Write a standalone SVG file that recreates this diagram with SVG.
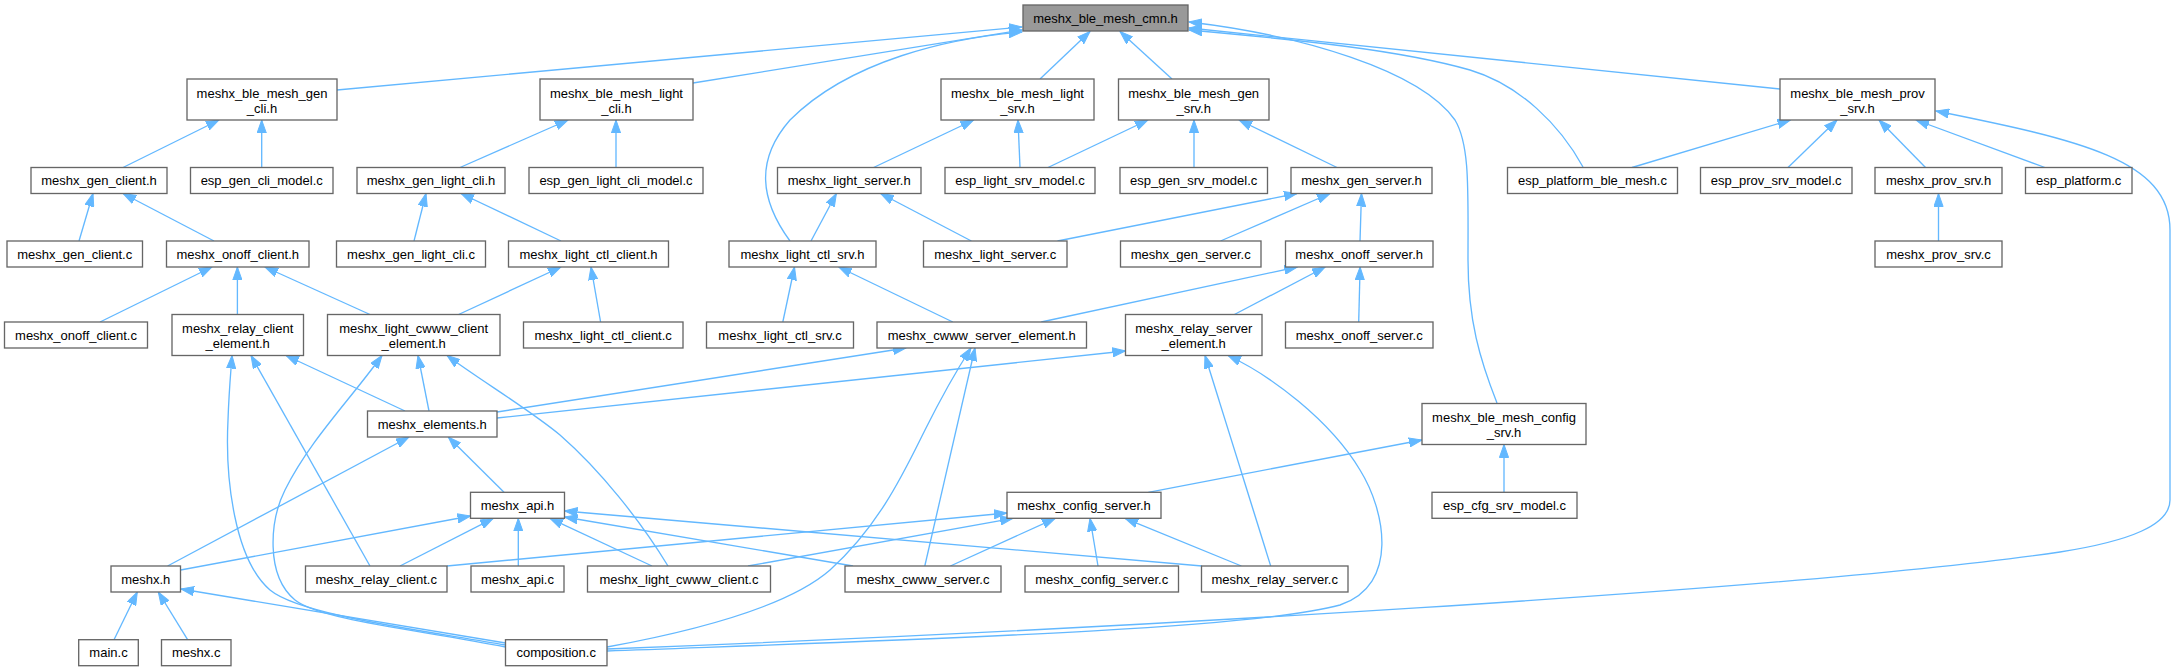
<svg xmlns="http://www.w3.org/2000/svg" width="2176" height="671" viewBox="0 0 2176 671">
<style>
.n rect{fill:#fff;stroke:#666;stroke-width:1.33}
.n.root rect{fill:#999}
.n text{font-family:"Liberation Sans",Arial,sans-serif;font-size:13px;fill:#000;text-anchor:middle}
.e path{fill:none;stroke:#63b8ff;stroke-width:1.33;marker-end:url(#a)}
</style>
<defs>
<marker id="a" markerUnits="userSpaceOnUse" markerWidth="14" markerHeight="10" refX="13" refY="5" orient="auto"><path d="M0,0.4 L13,5 L0,9.6 Z" fill="#63b8ff" stroke="#63b8ff" stroke-width="1"/></marker>
</defs>
<rect width="2176" height="671" fill="#fff"/>
<g class="e" id="edges">
<path d="M337,90 L1022,27"/>
<path d="M693,83 L1022,30"/>
<path d="M1040,79 L1090,31.5"/>
<path d="M1172,79 L1120,31.5"/>
<path d="M1780,89 L1189,28"/>
<path d="M790,241 C760,200 755,160 790,120 C850,60 950,38 1022,32"/>
<path d="M1583,167 C1560,125 1520,85 1470,70 C1400,50 1300,40 1189,30"/>
<path d="M1497,403 C1480,360 1468,320 1468,260 C1468,190 1470,145 1455,120 C1420,70 1300,35 1189,22"/>
<path d="M123,167.5 L219,120"/>
<path d="M261.7,167.5 L261.7,120"/>
<path d="M460,167.5 L568,120"/>
<path d="M616,167.5 L616,120"/>
<path d="M873.6,167.5 L973.7,120"/>
<path d="M1020,167.5 L1018,120"/>
<path d="M1048,167.5 L1148,120"/>
<path d="M1194,167.5 L1194,120"/>
<path d="M1337,167.5 L1239,120"/>
<path d="M1632,167.5 L1790.5,120"/>
<path d="M1788,167.5 L1837,120"/>
<path d="M1925.5,167.5 L1879,120"/>
<path d="M2045,167.5 L1916,120"/>
<path d="M607,649 C1100,630 1800,590 2060,552 C2130,541 2170,525 2170,500 L2170,230 C2170,160 2080,140 1936,111"/>
<path d="M79,241 L93,193.5"/>
<path d="M214,241 L123,193.5"/>
<path d="M414,241 L426,193.5"/>
<path d="M561,241 L461,193.5"/>
<path d="M811,241 L836.4,193.5"/>
<path d="M971.4,241 L880.6,193.5"/>
<path d="M1057.5,241 L1297,193.5"/>
<path d="M1220.5,241 L1330,193.5"/>
<path d="M1360,241 L1361.5,193.5"/>
<path d="M1938.5,241 L1938.5,193.5"/>
<path d="M100,322 L212,267"/>
<path d="M237.4,314.5 L237.4,267"/>
<path d="M370,314.5 L265,267"/>
<path d="M458.6,314.5 L561,267"/>
<path d="M600.6,322 L591,267"/>
<path d="M782.8,322 L794.5,267"/>
<path d="M952.8,322 L838.7,267"/>
<path d="M1041.2,322 L1297.3,267"/>
<path d="M1234.4,314.5 L1325.2,267"/>
<path d="M1358.7,322 L1360.1,267"/>
<path d="M405,411 L286,355.5"/>
<path d="M429,411 L418,355.5"/>
<path d="M497,412 L906,348"/>
<path d="M497,418 L1125.5,351"/>
<path d="M370,566 L251,355.5"/>
<path d="M505.5,645 C420,630 300,615 270,590 C235,560 225,480 228,420 C229,390 231,370 232,355.5"/>
<path d="M505.5,647 C420,630 320,620 295,600 C265,575 270,520 285,490 C310,440 350,400 382,355.5"/>
<path d="M668,566 C640,520 600,470 560,435 C530,410 480,380 447,355.5"/>
<path d="M607,647 C700,630 790,605 830,570 C880,525 905,470 925,430 C945,390 960,365 971,348"/>
<path d="M924.8,566 L975,348"/>
<path d="M1270.7,566 L1205,355.5"/>
<path d="M607,651 C900,640 1250,630 1340,605 C1400,585 1385,510 1360,470 C1330,420 1270,375 1228,355.5"/>
<path d="M167.6,566 L409,437"/>
<path d="M504,492.3 L448.3,437"/>
<path d="M1148.3,492.3 L1422,440"/>
<path d="M1504,492.3 L1504,444.5"/>
<path d="M180.6,570 L470.5,516"/>
<path d="M400,566 L493.3,518.3"/>
<path d="M518.3,566 L518.3,518.3"/>
<path d="M652,566 L550,518.3"/>
<path d="M853,566 L564.5,517"/>
<path d="M1202,566 L564.5,511"/>
<path d="M447,566 L1007,513"/>
<path d="M748,566 L1013,518.3"/>
<path d="M950.4,566 L1055.2,518.3"/>
<path d="M1098,566 L1090,518.3"/>
<path d="M1241.4,566 L1125,518.3"/>
<path d="M114,639.7 L137.3,592"/>
<path d="M187.6,639.7 L158.3,592"/>
<path d="M505.5,643 L181,589"/>
</g>
<g class="n root" id="n_cmn"><rect x="1023" y="5" width="165" height="26"/><text x="1105.5" y="22.5">meshx_ble_mesh_cmn.h</text></g>
<g class="n" id="n_gen_cli"><rect x="187" y="79" width="150" height="41"/><text x="262" y="97.5">meshx_ble_mesh_gen</text><text x="262" y="112.5">_cli.h</text></g>
<g class="n" id="n_light_cli"><rect x="540" y="79" width="153" height="41"/><text x="616.5" y="97.5">meshx_ble_mesh_light</text><text x="616.5" y="112.5">_cli.h</text></g>
<g class="n" id="n_light_srv"><rect x="941" y="79" width="153" height="41"/><text x="1017.5" y="97.5">meshx_ble_mesh_light</text><text x="1017.5" y="112.5">_srv.h</text></g>
<g class="n" id="n_gen_srv"><rect x="1118.5" y="79" width="150.5" height="41"/><text x="1193.7" y="97.5">meshx_ble_mesh_gen</text><text x="1193.7" y="112.5">_srv.h</text></g>
<g class="n" id="n_prov_srv"><rect x="1780" y="79" width="155" height="41"/><text x="1857.5" y="97.5">meshx_ble_mesh_prov</text><text x="1857.5" y="112.5">_srv.h</text></g>
<g class="n" id="n_gen_client_h"><rect x="31" y="167.5" width="136" height="26"/><text x="99" y="185">meshx_gen_client.h</text></g>
<g class="n" id="n_esp_gen_cli_model"><rect x="190.5" y="167.5" width="142.5" height="26"/><text x="261.7" y="185">esp_gen_cli_model.c</text></g>
<g class="n" id="n_gen_light_cli_h"><rect x="357" y="167.5" width="148" height="26"/><text x="431" y="185">meshx_gen_light_cli.h</text></g>
<g class="n" id="n_esp_gen_light_cli_model"><rect x="529" y="167.5" width="174" height="26"/><text x="616" y="185">esp_gen_light_cli_model.c</text></g>
<g class="n" id="n_light_server_h"><rect x="777.5" y="167.5" width="143.5" height="26"/><text x="849.2" y="185">meshx_light_server.h</text></g>
<g class="n" id="n_esp_light_srv_model"><rect x="945" y="167.5" width="150" height="26"/><text x="1020" y="185">esp_light_srv_model.c</text></g>
<g class="n" id="n_esp_gen_srv_model"><rect x="1120" y="167.5" width="147.5" height="26"/><text x="1193.7" y="185">esp_gen_srv_model.c</text></g>
<g class="n" id="n_gen_server_h"><rect x="1291" y="167.5" width="141" height="26"/><text x="1361.5" y="185">meshx_gen_server.h</text></g>
<g class="n" id="n_esp_platform_ble_mesh"><rect x="1507.5" y="167.5" width="170" height="26"/><text x="1592.5" y="185">esp_platform_ble_mesh.c</text></g>
<g class="n" id="n_esp_prov_srv_model"><rect x="1700.5" y="167.5" width="151.5" height="26"/><text x="1776.2" y="185">esp_prov_srv_model.c</text></g>
<g class="n" id="n_prov_srv_h"><rect x="1875" y="167.5" width="127" height="26"/><text x="1938.5" y="185">meshx_prov_srv.h</text></g>
<g class="n" id="n_esp_platform"><rect x="2025.5" y="167.5" width="106.5" height="26"/><text x="2078.7" y="185">esp_platform.c</text></g>
<g class="n" id="n_gen_client_c"><rect x="7" y="241" width="135.5" height="26"/><text x="74.7" y="258.5">meshx_gen_client.c</text></g>
<g class="n" id="n_onoff_client_h"><rect x="166.5" y="241" width="142.5" height="26"/><text x="237.7" y="258.5">meshx_onoff_client.h</text></g>
<g class="n" id="n_gen_light_cli_c"><rect x="336.5" y="241" width="149" height="26"/><text x="411" y="258.5">meshx_gen_light_cli.c</text></g>
<g class="n" id="n_light_ctl_client_h"><rect x="508.5" y="241" width="160" height="26"/><text x="588.5" y="258.5">meshx_light_ctl_client.h</text></g>
<g class="n" id="n_light_ctl_srv_h"><rect x="729" y="241" width="147" height="26"/><text x="802.5" y="258.5">meshx_light_ctl_srv.h</text></g>
<g class="n" id="n_light_server_c"><rect x="923.5" y="241" width="143.5" height="26"/><text x="995.2" y="258.5">meshx_light_server.c</text></g>
<g class="n" id="n_gen_server_c"><rect x="1120.5" y="241" width="140.5" height="26"/><text x="1190.7" y="258.5">meshx_gen_server.c</text></g>
<g class="n" id="n_onoff_server_h"><rect x="1285.5" y="241" width="147.5" height="26"/><text x="1359.2" y="258.5">meshx_onoff_server.h</text></g>
<g class="n" id="n_prov_srv_c"><rect x="1875" y="241" width="127" height="26"/><text x="1938.5" y="258.5">meshx_prov_srv.c</text></g>
<g class="n" id="n_onoff_client_c"><rect x="4.5" y="322" width="143" height="26"/><text x="76" y="339.5">meshx_onoff_client.c</text></g>
<g class="n" id="n_relay_client_element"><rect x="172" y="314.5" width="131.5" height="41"/><text x="237.7" y="332.5">meshx_relay_client</text><text x="237.7" y="347.5">_element.h</text></g>
<g class="n" id="n_light_cwww_client_element"><rect x="327.5" y="314.5" width="172.5" height="41"/><text x="413.7" y="332.5">meshx_light_cwww_client</text><text x="413.7" y="347.5">_element.h</text></g>
<g class="n" id="n_light_ctl_client_c"><rect x="523.5" y="322" width="159.5" height="26"/><text x="603.2" y="339.5">meshx_light_ctl_client.c</text></g>
<g class="n" id="n_light_ctl_srv_c"><rect x="706.5" y="322" width="147" height="26"/><text x="780" y="339.5">meshx_light_ctl_srv.c</text></g>
<g class="n" id="n_cwww_server_element"><rect x="877" y="322" width="209.5" height="26"/><text x="981.7" y="339.5">meshx_cwww_server_element.h</text></g>
<g class="n" id="n_relay_server_element"><rect x="1125.5" y="314.5" width="136.5" height="41"/><text x="1193.7" y="332.5">meshx_relay_server</text><text x="1193.7" y="347.5">_element.h</text></g>
<g class="n" id="n_onoff_server_c"><rect x="1285.5" y="322" width="147.5" height="26"/><text x="1359.2" y="339.5">meshx_onoff_server.c</text></g>
<g class="n" id="n_elements_h"><rect x="367.5" y="411" width="129.5" height="26"/><text x="432.2" y="428.5">meshx_elements.h</text></g>
<g class="n" id="n_config_srv_h"><rect x="1422" y="403.5" width="164" height="41"/><text x="1504" y="421.5">meshx_ble_mesh_config</text><text x="1504" y="436.5">_srv.h</text></g>
<g class="n" id="n_api_h"><rect x="470.5" y="492.3" width="94" height="26"/><text x="517.5" y="509.8">meshx_api.h</text></g>
<g class="n" id="n_config_server_h"><rect x="1007" y="492.3" width="154" height="26"/><text x="1084" y="509.8">meshx_config_server.h</text></g>
<g class="n" id="n_esp_cfg_srv_model"><rect x="1432" y="492.3" width="145" height="26"/><text x="1504.5" y="509.8">esp_cfg_srv_model.c</text></g>
<g class="n" id="n_meshx_h"><rect x="111" y="566" width="69.5" height="26"/><text x="145.7" y="583.5">meshx.h</text></g>
<g class="n" id="n_relay_client_c"><rect x="305.5" y="566" width="141.5" height="26"/><text x="376.2" y="583.5">meshx_relay_client.c</text></g>
<g class="n" id="n_api_c"><rect x="471" y="566" width="93" height="26"/><text x="517.5" y="583.5">meshx_api.c</text></g>
<g class="n" id="n_light_cwww_client_c"><rect x="587.5" y="566" width="183" height="26"/><text x="679" y="583.5">meshx_light_cwww_client.c</text></g>
<g class="n" id="n_cwww_server_c"><rect x="845" y="566" width="156" height="26"/><text x="923" y="583.5">meshx_cwww_server.c</text></g>
<g class="n" id="n_config_server_c"><rect x="1025" y="566" width="153.5" height="26"/><text x="1101.7" y="583.5">meshx_config_server.c</text></g>
<g class="n" id="n_relay_server_c"><rect x="1201.5" y="566" width="146.5" height="26"/><text x="1274.7" y="583.5">meshx_relay_server.c</text></g>
<g class="n" id="n_main_c"><rect x="78.7" y="639.7" width="59.6" height="26"/><text x="108.5" y="657.2">main.c</text></g>
<g class="n" id="n_meshx_c"><rect x="161.5" y="639.7" width="69.5" height="26"/><text x="196.2" y="657.2">meshx.c</text></g>
<g class="n" id="n_composition_c"><rect x="505.5" y="639.7" width="101.5" height="26"/><text x="556.2" y="657.2">composition.c</text></g>
</svg>
